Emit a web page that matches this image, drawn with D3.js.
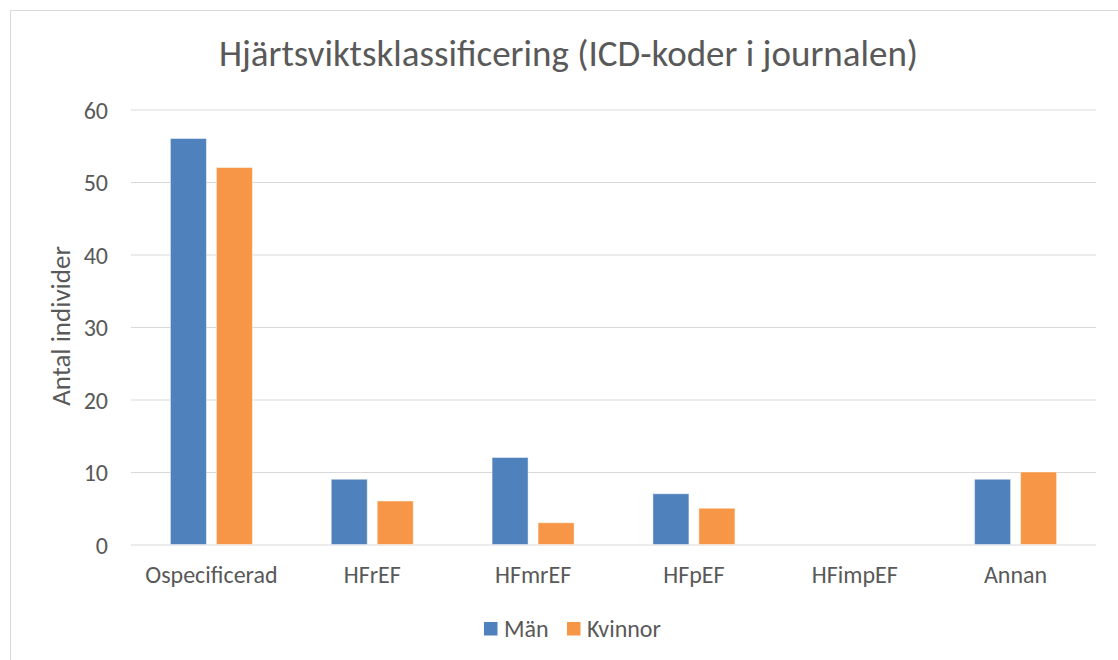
<!DOCTYPE html>
<html><head><meta charset="utf-8">
<script src="https://cdn.jsdelivr.net/npm/d3@7"></script>
<style>body{margin:0;background:#fff}svg{display:block}</style>
</head><body>
<svg id="chart" width="1118" height="660"></svg>
<script>
const categories = ["Ospecificerad","HFrEF","HFmrEF","HFpEF","HFimpEF","Annan"];
const seriesNames = ["Män","Kvinnor"];
const manValues = [56, 9, 12, 7, 0, 9];
const kvinnorValues = [52, 6, 3, 5, 0, 10];
const yTicks = [0,10,20,30,40,50,60];
const colors = ["#4F81BD","#F79646"];
const font = "Carlito, Calibri, Lato, sans-serif";
const textColor = "#595959";

(function(){
const svg = d3.select("#chart");
svg.append("rect").attr("x",10.5).attr("y",10.5).attr("width",1130).attr("height",670)
  .attr("fill","#fff").attr("stroke","#d9d9d9").attr("stroke-width",1);

const pLeft = 131, pRight = 1096, pTop = 109.5, pBottom = 544.5;
const x = d3.scaleBand().domain(categories).range([pLeft,pRight]).paddingInner(0).paddingOuter(0);
const y = d3.scaleLinear().domain([0,60]).range([pBottom,pTop]);
const data = [manValues, kvinnorValues];

const yAxis = d3.axisLeft(y).tickValues(yTicks).tickSize(-(pRight-pLeft)).tickPadding(23).tickFormat(d3.format("d"));
const gy = svg.append("g").attr("transform",`translate(${pLeft},0)`).call(yAxis);
gy.select(".domain").remove();
gy.selectAll(".tick line").attr("stroke","#d9d9d9").attr("stroke-width",1.2);
gy.selectAll(".tick text").attr("fill",textColor).attr("font-family",font).attr("font-size",24).attr("dy","0.36em");

const barW = 36, gap = 10;
const inner = d3.scaleBand().domain(seriesNames).range([0, barW*2+gap]).paddingInner(gap/(barW+gap)).paddingOuter(0);
const groups = svg.append("g").selectAll("g").data(categories).join("g")
  .attr("transform", c => `translate(${x(c) + (x.bandwidth() - (barW*2+gap))/2},0)`);
groups.selectAll("rect").data((c,i) => seriesNames.map((s,j)=>({s, v:data[j][i], j})))
  .join("rect")
  .attr("x", d => inner(d.s))
  .attr("width", inner.bandwidth())
  .attr("y", d => y(d.v))
  .attr("height", d => y(0)-y(d.v))
  .attr("fill", d => colors[d.j])
  .attr("stroke", d => d.v > 0 ? "rgba(255,255,255,0.45)" : "none")
  .attr("stroke-width", 1);

const xAxis = d3.axisBottom(x).tickSize(0).tickPadding(0);
const gx = svg.append("g").attr("transform",`translate(0,${pBottom})`).call(xAxis);
gx.select(".domain").remove();
gx.selectAll(".tick text").attr("fill",textColor).attr("font-family",font).attr("font-size",24)
  .attr("y", 38.5).attr("dy", 0);

svg.append("text").attr("x",568.5).attr("y",66).attr("text-anchor","middle")
  .attr("fill",textColor).attr("font-family",font).attr("font-size",37)
  .text("Hjärtsviktsklassificering (ICD-koder i journalen)");

svg.append("text").attr("transform","translate(70,326) rotate(-90)").attr("text-anchor","middle")
  .attr("fill",textColor).attr("font-family",font).attr("font-size",27)
  .text("Antal individer");

const legendX = [484, 567];
const lg = svg.append("g").selectAll("g").data(seriesNames).join("g")
  .attr("transform",(d,i)=>`translate(${legendX[i]},622)`);
lg.append("rect").attr("width",13.5).attr("height",13.5).attr("fill",(d,i)=>colors[i]);
lg.append("text").attr("x",20).attr("y",14.5).attr("fill",textColor).attr("font-family",font).attr("font-size",24).text(d=>d);
})();
</script>
</body></html>
